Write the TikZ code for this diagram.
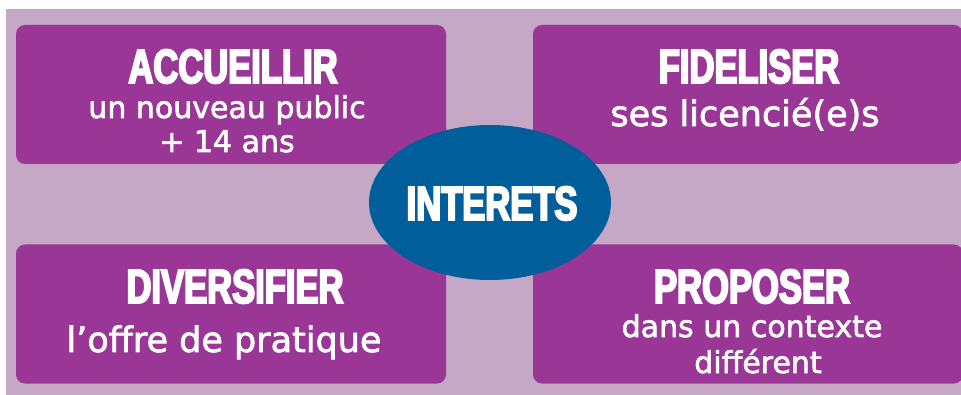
\documentclass[tikz,border=0pt]{standalone}
\usepackage{fontspec}
\usetikzlibrary{shapes.geometric}
\newfontfamily\titlefont[FakeStretch=0.72,FakeBold=4]{Liberation Sans}
\newfontfamily\subfont[FakeBold=2]{DejaVu Sans}
\definecolor{mauve}{RGB}{197,168,197}
\definecolor{violet}{RGB}{153,54,150}
\definecolor{bleu}{RGB}{0,95,155}
\tikzstyle{card}=[shape=rectangle,rounded corners=9pt,fill=violet,minimum width=430pt,minimum height=139pt,inner sep=0]
\tikzstyle{title}=[anchor=base,inner sep=0,text=white,font=\titlefont\bfseries\fontsize{48}{48}\selectfont]
\tikzstyle{sub}=[anchor=base,inner sep=0,text=white,font=\subfont\fontsize{30}{30}\selectfont]
\tikzstyle{bigsub}=[sub,font=\subfont\fontsize{35}{35}\selectfont]
\begin{document}
\begin{tikzpicture}[x=1pt,y=-1pt]
\useasboundingbox (0,0) rectangle (961,395);
\fill[mauve] (6,9) rectangle (961,395);

\node[card] (accueil) at (231,94.5) {};
\node[card] (fidel) at (748,94.5) {};
\node[card] (divers) at (231,314) {};
\node[card] (propos) at (748,314) {};

\node[title] (accT) at (233,83) {ACCUEILLIR};
\node[sub] (accA) at (227,118) {un nouveau public};
\node[sub] (accB) at (227,152) {+ 14 ans};

\node[title] (fidT) at (749,83) {FIDELISER};
\node[bigsub] (fidA) at (745,126) {ses licencié(e)s};

\node[title] (divT) at (235,303) {DIVERSIFIER};
\node[bigsub] (divA) at (224,352) {l’offre de pratique};

\node[title] (proT) at (752,303) {PROPOSER};
\node[sub] (proA) at (752,337) {dans un contexte};
\node[sub] (proB) at (758,373) {différent};

\node[ellipse,fill=bleu,minimum width=242pt,minimum height=155pt,inner sep=0] (interets) at (490,202.5) {};
\node[title] (intT) at (492,220) {INTERETS};
\end{tikzpicture}
\end{document}
